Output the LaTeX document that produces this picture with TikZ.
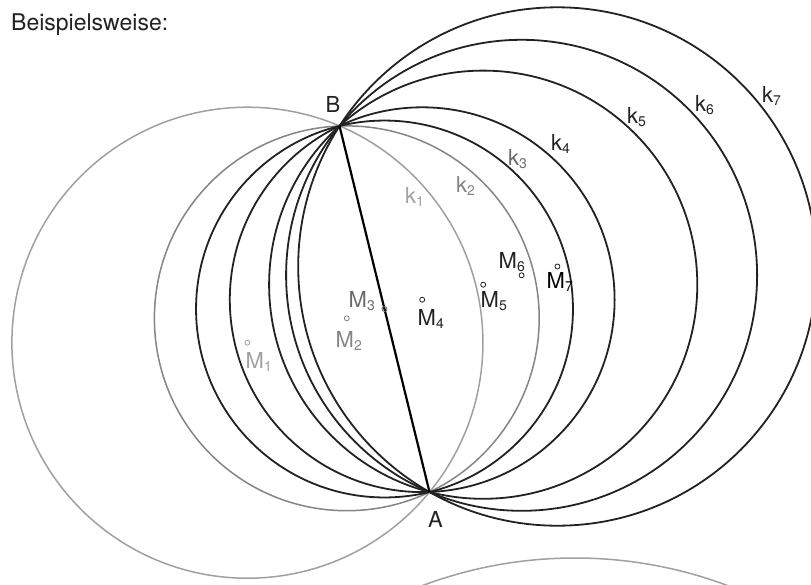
\documentclass[tikz,border=0pt]{standalone}
\usepackage{fontspec}
\setmainfont{TeX Gyre Heros}
\newcommand{\lsub}[1]{\raisebox{-3pt}{\fontsize{14}{14}\selectfont #1}}
\newcommand{\lblfont}{\fontsize{22}{26}\selectfont}
\definecolor{gA}{HTML}{A0A0A0}
\definecolor{gB}{HTML}{858585}
\definecolor{gC}{HTML}{6A6A6A}
\definecolor{dk}{HTML}{222222}
\begin{document}
\begin{tikzpicture}[x=1pt,y=-1pt,
  lbl/.style={anchor=base west, inner sep=0pt, font=\lblfont},
  circ/.style={line width=1.8pt, draw=dk},
  lightcirc/.style={line width=1.5pt, draw=gA},
  midcirc/.style={line width=1.5pt, draw=gB},
  ctr/.style={line width=0.8pt}]
\useasboundingbox (0,0) rectangle (811,584);
\clip (0,0) rectangle (811,584);
\fill[white] (0,0) rectangle (811,584);
% points
\coordinate (A) at (429.5,492);
\coordinate (B) at (339.5,126);
\coordinate (M1) at (247.4,342.7);
\coordinate (M2) at (346.8,318.3);
\coordinate (M3) at (384.5,309);
\coordinate (M4) at (422.2,299.7);
\coordinate (M5) at (483.2,284.7);
\coordinate (M6) at (521.6,275.3);
\coordinate (M7) at (557.4,266.5);
\coordinate (C8) at (575,992);
% circles
\draw[lightcirc] (M1) circle[radius=235.5pt];
\draw[midcirc] (M2) circle[radius=192.4pt];
\draw[circ] (M3) circle[radius=188.45pt];
\draw[circ] (M4) circle[radius=192.4pt];
\draw[circ] (M5) circle[radius=214.1pt];
\draw[circ] (M6) circle[radius=235.5pt];
\draw[circ] (M7) circle[radius=259.2pt];
\draw[lightcirc] (C8) circle[radius=434pt];
% chord
\draw[line width=2.2pt, draw=black] (A) -- (B);
% centre marks
\draw[ctr, draw=gA] (M1) circle[radius=2.5pt];
\draw[ctr, draw=gB] (M2) circle[radius=2.5pt];
\draw[ctr, draw=gC] (M3) circle[radius=2.5pt];
\draw[ctr, draw=dk] (M4) circle[radius=2.5pt];
\draw[ctr, draw=dk] (M5) circle[radius=2.5pt];
\draw[ctr, draw=dk] (M6) circle[radius=2.5pt];
\draw[ctr, draw=dk] (M7) circle[radius=2.5pt];
% labels
\node[anchor=base west, inner sep=0pt, font=\fontsize{23}{27}\selectfont, text=dk] (title) at (11,30.7) {Beispielsweise:};
\node[lbl, text=dk] (lB) at (325.5,112) {B};
\node[lbl, text=dk] (lA) at (428,527) {A};
\node[lbl, text=gA] (lM1) at (245.5,368) {M\lsub{1}};
\node[lbl, text=gB] (lM2) at (335.5,347) {M\lsub{2}};
\node[lbl, text=gC] (lM3) at (348.5,307) {M\lsub{3}};
\node[lbl, text=dk] (lM4) at (417.5,325) {M\lsub{4}};
\node[lbl, text=dk] (lM5) at (480.5,307) {M\lsub{5}};
\node[lbl, text=dk] (lM6) at (498.5,268) {M\lsub{6}};
\node[lbl, text=black] (lM7) at (546.5,288) {M\lsub{7}};
\node[lbl, text=gA] (lk1) at (405,203) {k\lsub{1}};
\node[lbl, text=gB] (lk2) at (456,192) {k\lsub{2}};
\node[lbl, text=gC] (lk3) at (508,165) {k\lsub{3}};
\node[lbl, text=dk] (lk4) at (551,150) {k\lsub{4}};
\node[lbl, text=dk] (lk5) at (627,123) {k\lsub{5}};
\node[lbl, text=dk] (lk6) at (695,111) {k\lsub{6}};
\node[lbl, text=dk] (lk7) at (762,102) {k\lsub{7}};
\end{tikzpicture}
\end{document}
